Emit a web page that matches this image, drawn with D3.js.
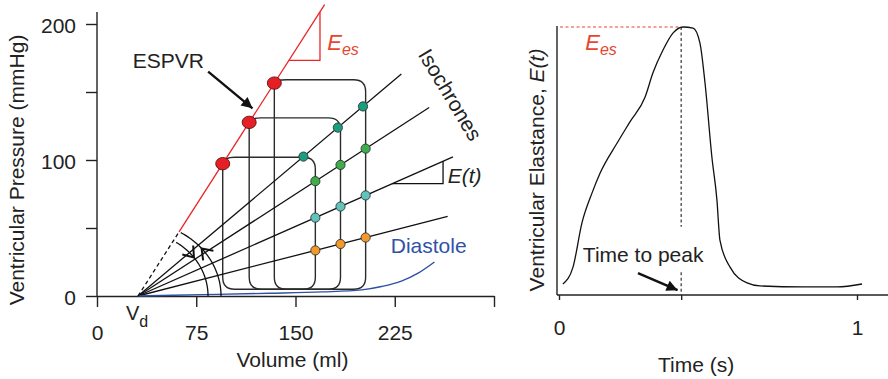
<!DOCTYPE html>
<html>
<head>
<meta charset="utf-8">
<script src="https://cdn.jsdelivr.net/npm/d3@7"></script>
<style>
  body { margin: 0; background: #fff; }
  svg { font-family: "Liberation Sans", Arial, Helvetica, sans-serif; }
  .axis path, .axis line { stroke: #222; stroke-width: 1.4; }
  .axis text { font-size: 21px; fill: #222; font-family: "Liberation Sans", Arial, sans-serif; }
  .lbl { font-size: 21px; fill: #222; }
</style>
</head>
<body>
<div id="chart"></div>
<script>
// pressure-volume panel
const volumeTicks = [0, 75, 150, 225, 300]
const pressureTicks = [0, 50, 100, 150, 200]
const Vd = 31
const Ees = 1.52
const espvrDashEnd = 62
const espvrEnd = 172
const isoElastance = [0.82, 0.63, 0.43, 0.25]
const isoEnd = [230, 251, 269, 265]
const isoColors = ['#17a07f', '#3dae4b', '#5ec4bc', '#f3992b']
const isoDots = [[156, 182, 201], [165, 184, 203], [165, 184, 203], [165, 184, 203]]
const loopESV = [95, 115, 134]
const loopEDV = [165, 184, 203]
const loopPeak = [102, 131, 159]
const loopFloor = [5, 5, 5]
const diastoleVol = [31, 80, 130, 170, 200, 215, 230, 243, 255]
const diastoleP = [0, 1, 2, 3, 4.5, 7, 11, 17, 25]

// elastance panel
const timeTicks = [0, 0.41, 1]
const elastTime = [0.013, 0.047, 0.077, 0.111, 0.138, 0.195, 0.238, 0.289, 0.315, 0.349, 0.383, 0.416,
  0.450, 0.473, 0.490, 0.513, 0.530, 0.540, 0.574, 0.631, 0.674, 0.819, 0.933, 1.017]
const elastValue = [0.041, 0.104, 0.269, 0.381, 0.455, 0.567, 0.646, 0.739, 0.828, 0.914, 0.978, 1.0,
  0.996, 0.940, 0.791, 0.515, 0.354, 0.205, 0.104, 0.045, 0.034, 0.030, 0.030, 0.041]
const timeToPeak = 0.41

const red = '#e8262b'
const redText = '#e8452f'

const svg = d3.select('#chart').append('svg')
  .attr('width', 888)
  .attr('height', 379)

svg.append('defs').append('marker')
  .attr('id', 'head')
  .attr('viewBox', '0 0 10 10')
  .attr('refX', 10).attr('refY', 5)
  .attr('markerUnits', 'userSpaceOnUse')
  .attr('markerWidth', 14).attr('markerHeight', 11)
  .attr('orient', 'auto')
  .append('path').attr('d', 'M0,0L10,5L0,10z').attr('fill', '#111')

drawPressureVolume(svg.append('g'))
drawElastance(svg.append('g'))

function drawPressureVolume(g) {
  const x = d3.scaleLinear().domain([0, 300]).range([97, 494])
  const y = d3.scaleLinear().domain([0, 200]).range([296, 24])
  const line = d3.line().x(d => x(d[0])).y(d => y(d[1]))

  // axes
  g.append('g').attr('class', 'axis')
    .attr('transform', `translate(0,${y(0)})`)
    .call(d3.axisBottom(x).tickValues(volumeTicks).tickFormat(d => d === 300 ? '' : d)
      .tickSize(11).tickSizeOuter(0).tickPadding(18))
  const ya = g.append('g').attr('class', 'axis')
    .attr('transform', `translate(${x(0)},0)`)
    .call(d3.axisLeft(y).tickValues(pressureTicks).tickFormat(d => d % 100 === 0 ? d : '')
      .tickSize(11).tickSizeOuter(0).tickPadding(10))
  ya.select('.domain').remove()
  ya.selectAll('text').attr('dy', '0.42em')
  g.append('line').attr('x1', x(0)).attr('x2', x(0)).attr('y1', y(0)).attr('y2', 12)
    .attr('stroke', '#222').attr('stroke-width', 1.4)

  g.append('text').attr('class', 'lbl')
    .attr('transform', 'translate(24,170) rotate(-90)')
    .attr('text-anchor', 'middle')
    .text('Ventricular Pressure (mmHg)')
  g.append('text').attr('class', 'lbl')
    .attr('x', x(150) - 3).attr('y', 367)
    .attr('text-anchor', 'middle')
    .text('Volume (ml)')

  const vdLabel = g.append('text').attr('class', 'lbl')
    .attr('x', x(Vd) - 12).attr('y', y(0) + 24)
  vdLabel.append('tspan').text('V').attr('font-size', 20)
  vdLabel.append('tspan').text('d').attr('font-size', 16).attr('dy', 7)

  // PV loops
  const r = 12
  loopESV.forEach((esv, i) => {
    const xl = x(esv), xr = x(loopEDV[i])
    const yt = y(loopPeak[i]), yb = y(loopFloor[i]), ye = y(Ees * (esv - Vd))
    const p = d3.path()
    p.moveTo(xl, ye)
    p.quadraticCurveTo(xl + 1, yt, xl + r, yt)
    p.lineTo(xr - r, yt)
    p.quadraticCurveTo(xr, yt, xr, yt + r)
    p.lineTo(xr, yb - r)
    p.quadraticCurveTo(xr, yb, xr - r, yb)
    p.lineTo(xl + r, yb)
    p.quadraticCurveTo(xl, yb, xl, yb - r)
    p.closePath()
    g.append('path').attr('d', p.toString())
      .attr('fill', 'none').attr('stroke', '#2b2b2b').attr('stroke-width', 1.4)
  })

  // isochrones
  isoElastance.forEach((e, i) => {
    g.append('path')
      .attr('d', line([[Vd, 0], [isoEnd[i], e * (isoEnd[i] - Vd)]]))
      .attr('stroke', '#111').attr('stroke-width', 1.3).attr('fill', 'none')
  })

  // diastole
  g.append('path')
    .attr('d', d3.line().curve(d3.curveMonotoneX)
      .x((d, i) => x(d)).y((d, i) => y(diastoleP[i]))(diastoleVol))
    .attr('fill', 'none').attr('stroke', '#2d4fa6').attr('stroke-width', 1.4)

  // ESPVR
  g.append('path')
    .attr('d', line([[Vd, 0], [espvrDashEnd, Ees * (espvrDashEnd - Vd)]]))
    .attr('stroke', '#111').attr('stroke-width', 1.3).attr('stroke-dasharray', '4,3')
  g.append('path')
    .attr('d', line([[espvrDashEnd, Ees * (espvrDashEnd - Vd)], [espvrEnd, Ees * (espvrEnd - Vd)]]))
    .attr('stroke', red).attr('stroke-width', 1.3)

  // slope triangles
  const triangle = (e, v0, v1) => line([[v0, e * (v0 - Vd)], [v1, e * (v0 - Vd)], [v1, e * (v1 - Vd)]])
  g.append('path').attr('d', triangle(Ees, 145, 168.5))
    .attr('fill', 'none').attr('stroke', red).attr('stroke-width', 1.3)
  g.append('path').attr('d', triangle(isoElastance[2], 223, 261.5))
    .attr('fill', 'none').attr('stroke', '#111').attr('stroke-width', 1.3)

  // rotating arrows at Vd
  const cx = x(Vd), cy = y(0)
  const arcs = [
    { rx: 70, ry: 64, end: 57, head: 37, dir: -1 },
    { rx: 83, ry: 74, end: 59, head: 40, dir: 1 }
  ]
  arcs.forEach(a => {
    const pts = d3.range(0, a.end + 0.5, 1).map(deg => {
      const t = deg * Math.PI / 180
      return [cx + a.rx * Math.cos(t), cy - a.ry * Math.sin(t)]
    })
    g.append('path').attr('d', d3.line()(pts))
      .attr('fill', 'none').attr('stroke', '#111').attr('stroke-width', 1.3)
    const t = a.head * Math.PI / 180
    const px = cx + a.rx * Math.cos(t), py = cy - a.ry * Math.sin(t)
    let tx = -a.rx * Math.sin(t) * a.dir, ty = -a.ry * Math.cos(t) * a.dir
    const back = Math.atan2(-ty, -tx)
    const spread = 36 * Math.PI / 180, L = 12
    const arm = s => [px + L * Math.cos(back + s), py + L * Math.sin(back + s)]
    g.append('path').attr('d', d3.line()([arm(spread), [px, py], arm(-spread)]))
      .attr('fill', 'none').attr('stroke', '#111').attr('stroke-width', 2)
  })

  // dots on isochrones
  isoDots.forEach((vols, i) => {
    g.selectAll(null).data(vols).enter().append('circle')
      .attr('cx', v => x(v)).attr('cy', v => y(isoElastance[i] * (v - Vd)))
      .attr('r', 4.6)
      .attr('fill', isoColors[i]).attr('stroke', '#333').attr('stroke-width', 0.9)
  })

  // end-systolic points
  g.selectAll(null).data(loopESV).enter().append('ellipse')
    .attr('cx', v => x(v)).attr('cy', v => y(Ees * (v - Vd)))
    .attr('rx', 7).attr('ry', 6.2)
    .attr('fill', '#e61f26').attr('stroke', '#5a1010').attr('stroke-width', 0.9)

  // labels
  g.append('text').attr('class', 'lbl').attr('x', x(27)).attr('y', y(168)).text('ESPVR')
  g.append('path').attr('d', line([[84, 165], [117.5, 138]]))
    .attr('stroke', '#111').attr('stroke-width', 2.4).attr('marker-end', 'url(#head)')

  const ees = g.append('text').attr('x', x(174)).attr('y', y(181))
    .attr('fill', redText).attr('font-style', 'italic')
  ees.append('tspan').text('E').attr('font-size', 22)
  ees.append('tspan').text('es').attr('font-size', 16).attr('dy', 5)

  g.append('text').attr('class', 'lbl')
    .attr('transform', `translate(${x(267)},${y(148)}) rotate(59)`)
    .attr('text-anchor', 'middle').attr('dy', '0.35em')
    .text('Isochrones')

  g.append('text').attr('class', 'lbl').attr('font-style', 'italic')
    .attr('x', x(265)).attr('y', y(83)).text('E(t)')

  g.append('text').attr('class', 'lbl').style('fill', '#3152a8')
    .attr('x', x(222)).attr('y', y(31.5)).text('Diastole')
}

function drawElastance(g) {
  const x = d3.scaleLinear().domain([0, 1]).range([559, 857])
  const y = d3.scaleLinear().domain([0, 1]).range([295, 27])

  const xa = g.append('g').attr('class', 'axis')
    .attr('transform', `translate(0,${y(0)})`)
    .call(d3.axisBottom(x).tickValues(timeTicks).tickFormat(d => d === 0 || d === 1 ? d : '')
      .tickSize(5).tickSizeOuter(0).tickPadding(20))
  xa.select('.domain').remove()
  g.append('line').attr('x1', 557).attr('x2', 888).attr('y1', y(0)).attr('y2', y(0))
    .attr('stroke', '#222').attr('stroke-width', 1.4)
  g.append('line').attr('x1', 557).attr('x2', 557).attr('y1', y(0)).attr('y2', 26)
    .attr('stroke', '#222').attr('stroke-width', 1.4)

  const title = g.append('text').attr('class', 'lbl')
    .attr('transform', 'translate(544,170) rotate(-90)')
    .attr('text-anchor', 'middle')
  title.append('tspan').text('Ventricular Elastance, ')
  title.append('tspan').text('E(t)').attr('font-style', 'italic')

  g.append('text').attr('class', 'lbl')
    .attr('x', x(0.46)).attr('y', 372).attr('text-anchor', 'middle')
    .text('Time (s)')

  // Ees level and time to peak
  g.append('line').attr('x1', 560).attr('x2', x(timeToPeak)).attr('y1', y(1)).attr('y2', y(1))
    .attr('stroke', redText).attr('stroke-width', 1.2).attr('stroke-dasharray', '3,2.5')
  g.append('line').attr('x1', x(timeToPeak)).attr('x2', x(timeToPeak)).attr('y1', y(1)).attr('y2', y(0.255))
    .attr('stroke', '#444').attr('stroke-width', 1.3).attr('stroke-dasharray', '3,2.5')
  g.append('line').attr('x1', x(timeToPeak)).attr('x2', x(timeToPeak)).attr('y1', y(0.085)).attr('y2', y(0))
    .attr('stroke', '#444').attr('stroke-width', 1.3).attr('stroke-dasharray', '3,2.5')

  g.append('path')
    .attr('d', d3.line().curve(d3.curveMonotoneX)
      .x(d => x(d)).y((d, i) => y(elastValue[i]))(elastTime))
    .attr('fill', 'none').attr('stroke', '#111').attr('stroke-width', 1.3)

  const ees = g.append('text').attr('x', x(0.088)).attr('y', 50)
    .attr('fill', redText).attr('font-style', 'italic')
  ees.append('tspan').text('E').attr('font-size', 22)
  ees.append('tspan').text('es').attr('font-size', 16).attr('dy', 5)

  g.append('text').attr('class', 'lbl').attr('x', x(0.08)).attr('y', 262).text('Time to peak')
  g.append('line')
    .attr('x1', x(0.265)).attr('y1', y(0.082)).attr('x2', x(0.398)).attr('y2', y(0.018))
    .attr('stroke', '#111').attr('stroke-width', 2.4).attr('marker-end', 'url(#head)')
}
</script>
</body>
</html>
